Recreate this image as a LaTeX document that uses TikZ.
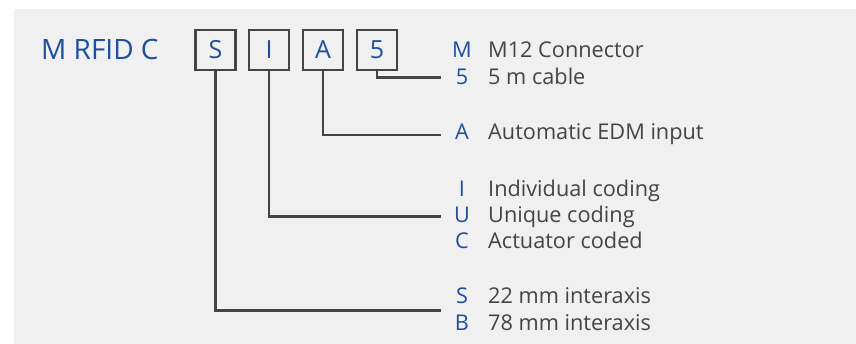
\documentclass[tikz,border=0pt]{standalone}
\usepackage{fontspec}
\setmainfont{Open Sans}
\usepackage{tikz}
\usetikzlibrary{positioning}
\definecolor{blue700} {HTML}{1F4E9C}
\definecolor{grey700} {HTML}{444444}
\definecolor{grey100} {HTML}{F0F0F0}
\tikzset{
  panel/.style ={fill=grey100, draw=none},
  title/.style ={font=\fontsize{28}{30}\selectfont, text=blue700,
                 anchor=base west, inner sep=0pt},
  digit/.style ={draw=grey700, line width=2.5pt, minimum size=40pt,
                 inner sep=0pt, text=blue700,
                 font=\fontsize{25}{28}\selectfont},
  code/.style  ={font=\fontsize{21.7}{26}\selectfont, text=blue700,
                 anchor=base, inner sep=0pt},
  desc/.style  ={font=\fontsize{21.7}{26}\selectfont, text=grey700,
                 anchor=base west, inner sep=0pt},
  lead/.style  ={draw=grey700, line width=2.5pt}
}
\begin{document}
\begin{tikzpicture}[x=1pt,y=-1pt]
\useasboundingbox (0,0) rectangle (856,344);
\fill[panel] (14,9) rectangle (856,344);
% Order code and its four option boxes.
\node[title] (name) at (41,59.3) {M RFID C};
\node[digit] (bS) at (215.5,49.9) {S};
\node[digit] (bI) at (269,49.9)   {I};
\node[digit] (bA) at (323,49.9)   {A};
\node[digit] (b5) at (377,49.9)   {5};
% Option legend: one row per code letter.
\node[code] (cM) at (462,57.3)  {M};  \node[desc] (dM) at (488,57.3)  {M12 Connector};
\node[code] (c5) at (462,85)    {5};  \node[desc] (d5) at (488,85)    {5 m cable};
\node[code] (cA) at (462,139.3) {A};  \node[desc] (dA) at (488,139.3) {Automatic EDM input};
\node[code] (cI) at (462,196.3) {I};  \node[desc] (dI) at (488,196.3) {Individual coding};
\node[code] (cU) at (462,222.3) {U};  \node[desc] (dU) at (488,222.3) {Unique coding};
\node[code] (cC) at (462,248.3) {C};  \node[desc] (dC) at (488,248.3) {Actuator coded};
\node[code] (cS) at (462,304)   {S};  \node[desc] (dS) at (488,304)   {22 mm interaxis};
\node[code] (cB) at (462,330.7) {B};  \node[desc] (dB) at (488,330.7) {78 mm interaxis};
% Leader ends just left of the legend column.
\coordinate (e5) at (440.7,77.7);
\coordinate (eA) at (440.7,135);
\coordinate (eI) at (440.7,216.7);
\coordinate (eS) at (440.7,310.7);
\draw[lead] (b5.south) |- (e5);
\draw[lead] (bA.south) |- (eA);
\draw[lead] (bI.south) |- (eI);
\draw[lead] (bS.south) |- (eS);
\end{tikzpicture}
\end{document}
